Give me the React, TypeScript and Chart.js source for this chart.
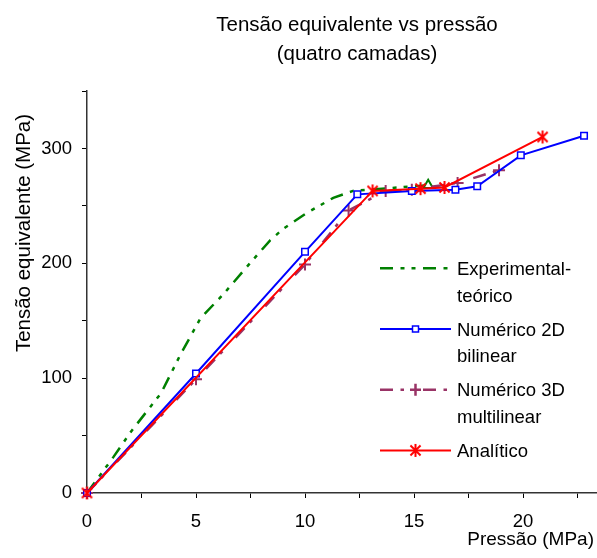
import React, { useEffect, useRef } from 'react';
import { Chart, registerables } from 'chart.js';

Chart.register(...registerables);

const TITLE_LINES = ['Tensão equivalente vs pressão', '(quatro camadas)'];
const X_TITLE = 'Pressão (MPa)';
const Y_TITLE = 'Tensão equivalente (MPa)';

// Experimental-teórico
const expP = [0, 1.2, 2, 3.4, 4.3, 5, 5.2, 6.3, 7.2, 8.4, 9, 10.1, 11.3, 12.2, 15.65];
const expS = [0, 31, 53, 87, 121, 145, 152, 174, 194, 220, 230, 244, 257, 263, 268];
// Numérico 2D bilinear
const num2dP = [0, 5, 10, 12.4, 14.9, 16.9, 17.9, 19.9, 22.8];
const num2dS = [0, 104, 210, 260, 263, 264, 267, 294, 311];
// Numérico 3D multilinear
const num3dP = [0, 5, 10, 12, 13.7, 14.9, 17, 18.9];
const num3dS = [0, 99, 199, 246, 263, 264, 270, 281];
// Analítico
const anaP = [0, 13.1, 15.3, 16.4, 20.9];
const anaS = [0, 263, 265, 266, 310];

const LEGEND_LABELS = [
  ['Experimental-', 'teórico'],
  ['Numérico 2D', 'bilinear'],
  ['Numérico 3D', 'multilinear'],
  ['Analítico'],
];
const X_TICK_LABELS = [0, 5, 10, 15, 20, 25];
const Y_TICK_LABELS = [0, 100, 200, 300];

const FONT = '"Liberation Sans", Arial, sans-serif';
const GREEN = '#008000';
const BLUE = '#0000FF';
const PURPLE = '#993366';
const RED = '#FF0000';
const GREEN_DASH = [13, 7.5, 4, 7, 4, 7.5];
const PURPLE_DASH = [13, 7.5, 3.5, 19];

function makeAsterisk(color: string, size: number, lw: number) {
  const c = document.createElement('canvas');
  c.width = size;
  c.height = size;
  const g = c.getContext('2d')!;
  g.strokeStyle = color;
  g.lineWidth = lw;
  const m = size / 2;
  const r = size / 2 - 1;
  const d = r * 0.78;
  g.beginPath();
  g.moveTo(m, m - r);
  g.lineTo(m, m + r);
  g.moveTo(m - d, m - d);
  g.lineTo(m + d, m + d);
  g.moveTo(m + d, m - d);
  g.lineTo(m - d, m + d);
  g.stroke();
  return c;
}

function drawMarker(ctx: CanvasRenderingContext2D, kind: string, x: number, y: number, color: string, star?: HTMLCanvasElement) {
  ctx.save();
  ctx.setLineDash([]);
  ctx.strokeStyle = color;
  if (kind === 'rect') {
    ctx.lineWidth = 1.5;
    ctx.fillStyle = '#fff';
    ctx.fillRect(x - 3, y - 3, 6, 6);
    ctx.strokeRect(x - 3, y - 3, 6, 6);
  } else if (kind === 'cross') {
    ctx.lineWidth = 2.5;
    ctx.beginPath();
    ctx.moveTo(x - 5.5, y);
    ctx.lineTo(x + 5.5, y);
    ctx.moveTo(x, y - 6);
    ctx.lineTo(x, y + 6);
    ctx.stroke();
  } else if (kind === 'star' && star) {
    ctx.drawImage(star, x - star.width / 2, y - star.height / 2);
  }
  ctx.restore();
}

export default function App() {
  const ref = useRef<HTMLCanvasElement | null>(null);

  useEffect(() => {
    const canvas = ref.current;
    if (!canvas) return;
    const star = makeAsterisk(RED, 15, 2);

    const toPts = (xs: number[], ys: number[]) => xs.map((x, i) => ({ x, y: ys[i] }));

    const legendKinds = [
      { color: GREEN, dash: GREEN_DASH, width: 2.5, marker: 'none' },
      { color: BLUE, dash: [] as number[], width: 2, marker: 'rect' },
      { color: PURPLE, dash: PURPLE_DASH, width: 2.5, marker: 'cross' },
      { color: RED, dash: [] as number[], width: 2, marker: 'star' },
    ];

    const textPlugin = {
      id: 'textAndLegend',
      afterDraw(chart: any) {
        const ctx: CanvasRenderingContext2D = chart.ctx;
        ctx.save();
        ctx.fillStyle = '#000';
        ctx.textBaseline = 'alphabetic';
        // title
        ctx.font = `20.5px ${FONT}`;
        ctx.textAlign = 'center';
        ctx.fillText(TITLE_LINES[0], 357, 31);
        ctx.fillText(TITLE_LINES[1], 357, 60);
        // x title
        ctx.font = `19px ${FONT}`;
        ctx.textAlign = 'right';
        ctx.fillText(X_TITLE, 594, 545);
        // y title
        ctx.save();
        ctx.font = `20.5px ${FONT}`;
        ctx.translate(30, 233);
        ctx.rotate(-Math.PI / 2);
        ctx.textAlign = 'center';
        ctx.fillText(Y_TITLE, 0, 0);
        ctx.restore();
        // legend
        const x0 = 380;
        const x1 = 451;
        const tx = 457;
        LEGEND_LABELS.forEach((lines, i) => {
          const cy = 268.3 + i * 60.7;
          const k = legendKinds[i];
          ctx.save();
          ctx.strokeStyle = k.color;
          ctx.lineWidth = k.width;
          ctx.setLineDash(k.dash);
          ctx.beginPath();
          ctx.moveTo(x0, cy);
          ctx.lineTo(x1, cy);
          ctx.stroke();
          ctx.restore();
          if (k.marker !== 'none') drawMarker(ctx, k.marker, 415.5, cy, k.color, star);
          ctx.fillStyle = '#000';
          ctx.textAlign = 'left';
          ctx.font = `18.5px ${FONT}`;
          lines.forEach((t, j) => {
            ctx.fillText(t, tx, cy + 6.7 + j * 26.5);
          });
        });
        ctx.restore();
      },
    };

    const chart = new Chart(canvas, {
      type: 'scatter',
      data: {
        datasets: [
          {
            label: 'Analítico',
            data: toPts(anaP, anaS),
            showLine: true,
            borderColor: RED,
            backgroundColor: RED,
            borderWidth: 2,
            pointStyle: star as any,
            pointRadius: 6,
            pointHoverRadius: 6,
            clip: false as any,
            order: 0,
          },
          {
            label: 'Numérico 2D bilinear',
            data: toPts(num2dP, num2dS),
            showLine: true,
            borderColor: BLUE,
            backgroundColor: '#FFFFFF',
            borderWidth: 2,
            pointStyle: 'rect',
            pointRadius: 4.6,
            pointBorderWidth: 1.5,
            clip: false as any,
            order: 1,
          },
          {
            label: 'Numérico 3D multilinear',
            data: toPts(num3dP, num3dS),
            showLine: true,
            borderColor: PURPLE,
            backgroundColor: PURPLE,
            borderWidth: 2.5,
            borderDash: PURPLE_DASH,
            pointStyle: 'cross',
            pointRadius: 6,
            pointBorderWidth: 2,
            clip: false as any,
            order: 2,
          },
          {
            label: 'Experimental-teórico',
            data: toPts(expP, expS),
            showLine: true,
            borderColor: GREEN,
            backgroundColor: '#FFFFFF',
            borderWidth: 2.5,
            borderDash: GREEN_DASH,
            pointStyle: 'triangle',
            pointRadius: expP.map((_, i) => (i === expP.length - 1 ? 5.5 : 0)),
            pointBorderWidth: 2,
            clip: false as any,
            order: 3,
          },
        ],
      },
      options: {
        animation: false,
        responsive: false,
        devicePixelRatio: 1,
        layout: { padding: { left: 0, top: 91, right: 28, bottom: 0 } },
        plugins: {
          legend: { display: false },
          title: { display: false },
          tooltip: { enabled: false },
        },
        scales: {
          x: {
            type: 'linear',
            min: 0,
            max: 25,
            afterFit: (s: any) => {
              s.height = 65;
            },
            ticks: {
              stepSize: 2.5,
              autoSkip: false,
              maxRotation: 0,
              padding: 13,
              color: '#000',
              font: { family: FONT, size: 18.5 },
              callback: (v: any) => (X_TICK_LABELS.includes(Number(v)) ? String(v) : ''),
            },
            grid: { drawOnChartArea: false, drawTicks: true, tickLength: 5, color: '#000', lineWidth: 1 },
            border: { display: true, color: '#333', width: 1.5 },
          },
          y: {
            type: 'linear',
            min: 0,
            max: 350,
            afterFit: (s: any) => {
              s.width = 87;
            },
            ticks: {
              stepSize: 50,
              autoSkip: false,
              padding: 10,
              color: '#000',
              font: { family: FONT, size: 18.5 },
              callback: (v: any) => (Y_TICK_LABELS.includes(Number(v)) ? String(v) : ''),
            },
            grid: { drawOnChartArea: false, drawTicks: true, tickLength: 5, color: '#000', lineWidth: 1 },
            border: { display: true, color: '#333', width: 1.5 },
          },
        },
      },
      plugins: [textPlugin],
    });

    return () => {
      chart.destroy();
    };
  }, []);

  return (
    <div
      style={{
        position: 'fixed',
        left: 0,
        top: 0,
        width: 597,
        height: 558,
        overflow: 'hidden',
        background: '#fff',
      }}
    >
      <canvas ref={ref} width={660} height={558} style={{ width: 660, height: 558, display: 'block' }} />
    </div>
  );
}
